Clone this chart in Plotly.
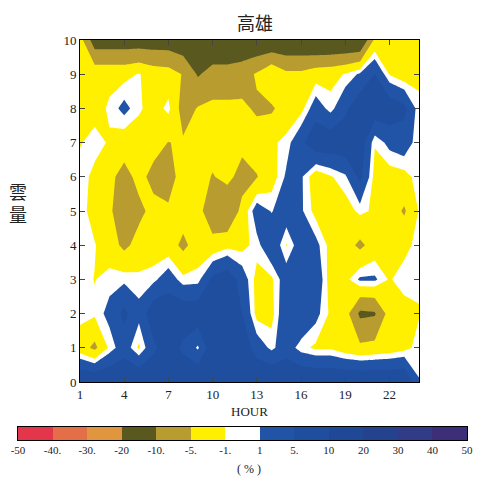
import numpy as np
import plotly.graph_objects as go

# ---------------- data ----------------
hours = list(range(1, 25))          # x: HOUR
cloud = list(range(0, 11))          # y: 雲量 (cloud amount, tenths)

levels = [-50, -40, -30, -20, -10, -5, -1, 1, 5, 10, 20, 30, 40, 50]
level_labels = ["-50", "-40.", "-30.", "-20", "-10.", "-5.", "-1.", "1", "5.",
                "10", "20", "30", "40", "50"]
bin_colors = ["#e4364a", "#e46e48", "#e0963e", "#58581f", "#b89c30", "#fff000",
              "#ffffff", "#2153a6", "#1f4e9f", "#1f4897", "#25428f", "#313b88",
              "#3c2f78"]

# percentage anomaly per hour (h1..h24) for each cloud amount
c0 = [9.5, 9.5, 9.5, 9.5, 9.5, 9.5, 9.5, 9.5, 9.5, 9.5, 9.5, 9.5,
      9.5, 9.5, 9.5, 9.5, 9.5, 9.5, 9.5, 9.5, 9.5, 9.5, 9.5, 1.15]
c1 = [-3, -6, -0.5, 3, -1.5, 4, 8, 4, 0.5, 8, 8, 8,
      3, 0.3, 3, -0.3, -1.5, -1.5, -3, -4, -3.5, -3, -2, 0]
c2 = [0, -0.5, 2, 6, 2, 8, 8, 8, 8, 8, 8, 5,
      -2, -2, 4, 5, 2, -1.5, -3, -11, -10.5, -3, -2.5, -1.2]
c3 = [0, -1.1, 0, 0.3, -0.3, 0.3, 3, -0.3, 0, 6, 8, 3,
      -2, -1.5, 3, 5, 4, -2.5, -2, 1.5, 1.5, -1.3, 0.3, -0.5]
c4 = [0, -0.8, -3, -6, -3.5, -3, -3, -6, -3, -3.5, -2, -2,
      0, 4, -1.2, 3, 2, -2, -3, -6, -3, -2.5, -2, 0]
c5 = [0.3, -2.5, -4, -9, -6, -3.8, -4, -3, -3.5, -8, -9.8, -3.5,
      3, 0.8, 3, 1.5, -2, -3, -2.5, -0.3, -1.5, -3, -5.5, -0.8]
c6 = [0.5, -2, -4, -6.5, -3.8, -6.2, -8, -2, -3, -5.3, -3.5, -7,
      -5.2, -2.5, 1.5, 1.5, -3, -1.3, 0.5, 6, -2, -2.5, -2, 0]
c7 = [-1.3, 0.3, -1.4, -3, -3, -3.5, -5.1, -4.5, -3, -3, -3, -3.5,
      -3, -1.5, -0.3, 4, 8, 8, 8, 8, -0.8, 2, 3, -0.5]
c8 = [-2, -2.5, -0.5, 2, -0.5, -2.5, -0.2, -7, -4.7, -4.0, -4.0, -4.2,
      -5.6, -5.6, -3, -2, 3, 0, 4, 8, 8, 8, 6, -0.5]
c9 = [-2.5, -2, -2, -2, -0.8, -2.5, -3, -5.3, -10.5, -8, -8, -7,
      -4.5, -0.9, -4, -4, -2.5, -2, -0.8, 1.5, 5, -1.2, -3, -1.5]
c10 = [-3, -13, -13, -13, -13, -13, -13, -14, -15, -15, -15, -15,
       -15, -15, -15, -15, -16, -16, -16, -16, -4, -3, -3, -3]

x_ticks = [1, 4, 7, 10, 13, 16, 19, 22]
y_ticks = list(range(0, 11))

# ---------------- figure ----------------
z = np.array([c0, c1, c2, c3, c4, c5, c6, c7, c8, c9, c10], dtype=float)
nb = len(levels) - 1

# page offset of the plot div (browser body margin); keep the page from overflowing
OX, OY = 8, 8
W, H = 482 - 2 * OX, 485 - 2 * OY


def fx(px):   # screen x -> paper fraction
    return (px - OX) / W


def fy(py):   # screen y -> paper fraction
    return 1 - (py - OY) / H


# colour of the band holding the data minimum fills the whole plot first
zmin, zmax = float(z.min()), float(z.max())
base_col = bin_colors[int(np.searchsorted(levels, zmin, side="right")) - 1]

fig = go.Figure()

# filled contour bands in value space: region at/above each level painted in turn
# (a constraint contour shades the region that fails the constraint "z < level")
for lev, col in zip(levels[:-1], bin_colors):
    if not (zmin < lev < zmax):
        continue
    fig.add_trace(go.Contour(
        x=hours, y=cloud, z=z,
        contours=dict(type="constraint", operation="<", value=lev),
        fillcolor=col, line=dict(width=0, smoothing=0, color=col),
        showscale=False, hoverinfo="skip", xaxis="x", yaxis="y",
    ))

# colour key
fig.add_trace(go.Heatmap(
    z=[[i + 0.5 for i in range(nb)]], x=[i + 0.5 for i in range(nb)], y=[0],
    zmin=0, zmax=nb,
    colorscale=[[v, c] for i, c in enumerate(bin_colors)
                for v in (i / nb, (i + 1) / nb)],
    showscale=False, hoverinfo="skip", xaxis="x2", yaxis="y2",
))

serif = "Liberation Serif"
fig.update_layout(
    width=W, height=H,
    margin=dict(l=0, r=0, t=0, b=0, autoexpand=False),
    paper_bgcolor="white", plot_bgcolor=base_col,
    showlegend=False,
    xaxis=dict(domain=[fx(80), fx(419)], range=[1, 24], tickvals=x_ticks,
               ticks="inside", ticklen=5, anchor="y",
               showline=True, linecolor="black", linewidth=1, mirror="ticks",
               showgrid=False, zeroline=False,
               tickfont=dict(family=serif, size=13, color="#222")),
    yaxis=dict(domain=[fy(382), fy(40)], range=[0, 10], tickvals=y_ticks,
               ticks="inside", ticklen=5, anchor="x",
               showline=True, linecolor="black", linewidth=1, mirror="ticks",
               showgrid=False, zeroline=False,
               tickfont=dict(family=serif, size=13, color="#222")),
    xaxis2=dict(domain=[fx(18), fx(467)], range=[0, nb], anchor="y2",
                tickvals=list(range(len(levels))), ticktext=level_labels,
                ticks="", showline=True, linecolor="black", linewidth=1,
                mirror=True, showgrid=False, zeroline=False,
                tickfont=dict(family=serif, size=11, color="#222")),
    yaxis2=dict(domain=[fy(440), fy(427)], range=[-0.5, 0.5], anchor="x2",
                showticklabels=False, ticks="", showline=True, linecolor="black",
                linewidth=1, mirror=True, showgrid=False, zeroline=False),
    annotations=[
        dict(text="高雄", x=fx(255), y=fy(22), xref="paper", yref="paper",
             xanchor="center", yanchor="middle", showarrow=False,
             font=dict(family="Noto Sans CJK TC", size=18, color="#222")),
        dict(text="雲<br>量", x=fx(18), y=fy(203), xref="paper", yref="paper",
             xanchor="center", yanchor="middle", showarrow=False,
             font=dict(family="Noto Sans CJK TC", size=18, color="#222")),
        dict(text="HOUR", x=fx(249), y=fy(411), xref="paper", yref="paper",
             xanchor="center", yanchor="middle", showarrow=False,
             font=dict(family=serif, size=13, color="#222")),
        dict(text="( % )", x=fx(249), y=fy(469), xref="paper", yref="paper",
             xanchor="center", yanchor="middle", showarrow=False,
             font=dict(family=serif, size=12, color="#222")),
    ],
)

fig.write_html("out.html")
